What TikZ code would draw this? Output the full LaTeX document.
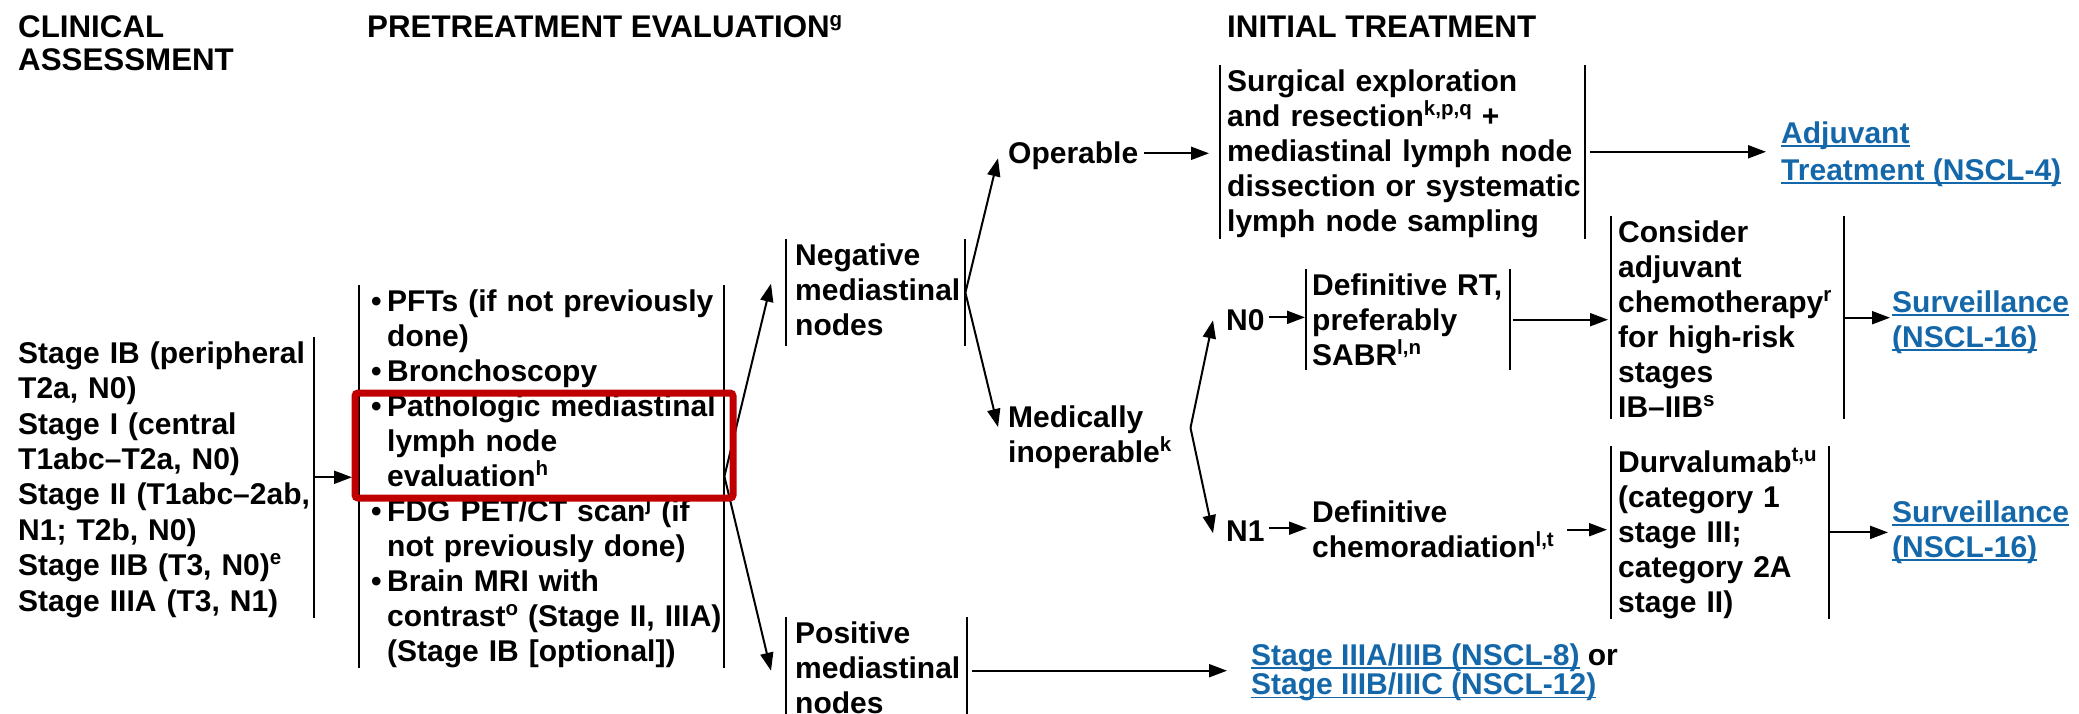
\documentclass[tikz,border=0pt]{standalone}
\usepackage{fontspec}
\setmainfont{Liberation Sans}
\usetikzlibrary{arrows.meta}

\definecolor{linkblue}{RGB}{20,104,170}
\definecolor{hlred}{RGB}{192,0,0}

% footnote letters, raised
\newcommand\fn[1]{\raisebox{11pt}{\fontsize{20.5pt}{20.5pt}\selectfont #1}}
% fixed top of the first line, fixed depth of the last one
\newcommand\tp{\rule{0pt}{26pt}}
\newcommand\dpt[1]{\rule[-#1pt]{0pt}{#1pt}}
% underlined cross-reference
\newcommand\lnk[1]{{\setbox0\hbox{#1}\rlap{\rule[-4pt]{\wd0}{1.8pt}}\box0}}
% bullet items
\newcommand\bul{\makebox[16pt][l]{\textbullet}}
\newcommand\ind{\hspace*{16pt}}

\tikzset{
  txt/.style={font=\fontsize{30pt}{#1}\selectfont\bfseries, inner sep=0pt,
              anchor=north west, align=left},
  txt/.default=35pt,
  hdr/.style={font=\fontsize{31.3pt}{33pt}\selectfont\bfseries, inner sep=0pt,
              anchor=north west, align=left},
  linktxt/.style={txt=#1, text=linkblue},
  linktxt/.default=35pt,
  barline/.style={draw=black, line width=1.9pt},
  % vertical bars on both sides of a block (left bar #1 away from the text)
  lbr/.style={append after command={
      ([xshift=-#1]\tikzlastnode.north west) edge[barline] ([xshift=-#1]\tikzlastnode.south west)
      (\tikzlastnode.north east) edge[barline] (\tikzlastnode.south east)}},
  % vertical bar on the right side only
  rbr/.style={append after command={
      (\tikzlastnode.north east) edge[barline] (\tikzlastnode.south east)}},
  arr/.style={draw=black, line width=2pt, -{Triangle[length=18pt,width=13pt]}},
}

\begin{document}
\begin{tikzpicture}[x=1pt, y=-1pt]
\useasboundingbox (0,0) rectangle (2079,714);
\fill[white] (0,0) rectangle (2079,714);

% column headings
\node[hdr] (hclin) at (18,11) {\tp CLINICAL\\ASSESSMENT};
\node[hdr] (hpre) at (367,11) {\tp PRETREATMENT EVALUATION\fn{g}};
\node[hdr] (hinit) at (1227,11) {\tp INITIAL TREATMENT};

% clinical assessment
\node[txt=35.4pt, text width=296pt, rbr] (stages) at (18,337)
  {\tp Stage IB (peripheral\\T2a, N0)\\Stage I (central\\T1abc–T2a, N0)\\Stage II (T1abc–2ab,\\N1; T2b, N0)\\Stage IIB (T3, N0)\fn{e}\\Stage IIIA (T3, N1)\dpt{3}};

% pretreatment evaluation
\node[txt, text width=353pt, lbr=12pt] (eval) at (371,285)
  {\tp\bul PFTs (if not previously\\\ind done)\\\bul Bronchoscopy\\\bul Pathologic mediastinal\\\ind lymph node\\\ind evaluation\fn{h}\\\bul FDG PET/CT scan\fn{j} (if\\\ind not previously done)\\\bul Brain MRI with\\\ind contrast\fn{o} (Stage II, IIIA)\\\ind (Stage IB [optional])\dpt{5}};

\node[txt, text width=170pt, lbr=9pt] (neg) at (795,239)
  {\tp Negative\\mediastinal\\nodes\dpt{11}};
\node[txt, text width=172pt, lbr=9pt] (pos) at (795,617)
  {\tp Positive\\mediastinal\\nodes\dpt{11}};

\node[txt] (op) at (1008,137) {\tp Operable};
\node[txt] (med) at (1008,401) {\tp Medically\\inoperable\fn{k}};

% initial treatment
\node[txt=35.2pt, text width=358pt, lbr=7pt] (surg) at (1227,65)
  {\tp Surgical exploration\\and resection\fn{k,p,q} +\\mediastinal lymph node\\dissection or systematic\\lymph node sampling\dpt{3}};
\node[linktxt=37pt] (adj) at (1781,117) {\tp\lnk{Adjuvant}\\\lnk{Treatment (NSCL-4)}};

\node[txt] (n0) at (1226,304) {\tp N0};
\node[txt] (n1) at (1226,515) {\tp N1};

\node[txt, text width=198pt, lbr=6pt] (drt) at (1312,269)
  {\tp Definitive RT,\\preferably\\SABR\fn{l,n}\dpt{5}};
\node[txt, text width=226pt, lbr=7pt] (cons) at (1618,216)
  {\tp Consider\\adjuvant\\chemotherapy\fn{r}\\for high-risk\\stages\\IB–IIB\fn{s}\dpt{2}};
\node[linktxt] (surv1) at (1892,286) {\tp\lnk{Surveillance}\\\lnk{(NSCL-16)}};

\node[txt] (chem) at (1312,496) {\tp Definitive\\chemoradiation\fn{l,t}\dpt{6}};
\node[txt, text width=211pt, lbr=7pt] (durv) at (1618,446)
  {\tp Durvalumab\fn{t,u}\\(category 1\\stage III;\\category 2A\\stage II)\dpt{1}};
\node[linktxt] (surv2) at (1892,496) {\tp\lnk{Surveillance}\\\lnk{(NSCL-16)}};

\node[linktxt=28pt] (stg) at (1251,639)
  {\tp\lnk{Stage IIIA/IIIB (NSCL-8)} {\color{black}or}\\\lnk{Stage IIIB/IIIC (NSCL-12)}\dpt{6}};

% connectors
\draw[arr, shorten >=19pt] (stages.east) -- (stages.east -| eval.west);
\draw[arr] (eval.east) -- ([shift={(-24,-9)}]neg.west);
\draw[arr] (eval.east) -- ([shift={(-24,0)}]pos.west);
\draw[arr] (neg.east) -- ([shift={(-10,5)}]op.west);
\draw[arr] (neg.east) -- ([shift={(-10,26)}]med.north west);
\draw[arr, shorten <=6pt, shorten >=18pt] (op.east) -- (op.east -| surg.west);
\draw[arr, shorten <=5pt, shorten >=15pt] (surg.east) -- (surg.east -| adj.west);

\coordinate (mfork) at ([shift={(19,-7)}]med.east);
\draw[arr] (mfork) -- ([shift={(-13,3)}]n0.west);
\draw[arr] (mfork) -- ([shift={(-13,5)}]n1.west);

\draw[arr, shorten <=4pt, shorten >=7pt] (n0.east) -- (n0.east -| drt.west);
\draw[arr, shorten <=3pt, shorten >=10pt] (drt.east) -- (drt.east -| cons.west);
\draw[arr, shorten >=2pt] (cons.east) -- (cons.east -| surv1.west);
\draw[arr, shorten <=4pt, shorten >=5pt] (n1.east) -- (n1.east -| chem.west);
\draw[arr, shorten <=13pt, shorten >=11pt] (chem.east) -- (chem.east -| durv.west);
\draw[arr, shorten >=4pt] (durv.east) -- (durv.east -| surv2.west);
\draw[arr, shorten <=5pt, shorten >=24pt] (pos.east) -- (pos.east -| stg.west);

% highlight round the lymph node evaluation item
\draw[hlred, line width=7pt, rounded corners=3pt] (355,393) rectangle (733,498);
\end{tikzpicture}
\end{document}
